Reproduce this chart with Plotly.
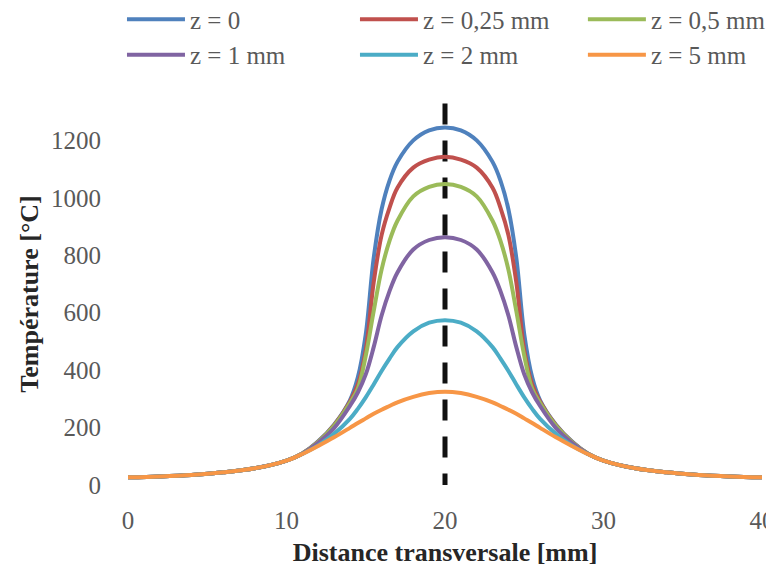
import plotly.graph_objects as go

x_mm = [0, 2, 4, 6, 8, 10, 11, 12, 13, 14, 14.5, 15, 15.5, 16, 16.5, 17, 18, 19, 20,
        21, 22, 23, 23.5, 24, 24.5, 25, 25.5, 26, 27, 28, 29, 30, 32, 34, 36, 38, 40]

t_z0 = [27, 30, 35, 44, 58, 85, 110, 152, 210, 295, 375, 525, 790, 960, 1060, 1125, 1200, 1235, 1245,
        1235, 1200, 1125, 1060, 960, 790, 525, 375, 295, 210, 152, 110, 85, 58, 44, 35, 30, 27]
t_z025 = [27, 30, 35, 44, 58, 85, 110, 151, 208, 290, 350, 470, 705, 870, 965, 1035, 1105, 1133, 1143,
          1133, 1105, 1035, 965, 870, 705, 470, 350, 290, 208, 151, 110, 85, 58, 44, 35, 30, 27]
t_z05 = [27, 30, 35, 44, 58, 85, 110, 150, 206, 285, 335, 450, 605, 750, 850, 920, 1005, 1038, 1048,
         1038, 1005, 920, 850, 750, 605, 450, 335, 285, 206, 150, 110, 85, 58, 44, 35, 30, 27]
t_z1 = [27, 30, 35, 44, 58, 85, 109, 147, 198, 275, 322, 385, 480, 590, 675, 740, 820, 853, 863,
        853, 820, 740, 675, 590, 480, 385, 322, 275, 198, 147, 109, 85, 58, 44, 35, 30, 27]
t_z2 = [27, 30, 35, 44, 58, 85, 108, 138, 178, 230, 265, 305, 350, 397, 440, 480, 535, 565, 574,
        565, 535, 480, 440, 397, 350, 305, 265, 230, 178, 138, 108, 85, 58, 44, 35, 30, 27]
t_z5 = [27, 30, 35, 44, 58, 85, 108, 136, 166, 199, 216, 232, 248, 262, 275, 288, 307, 320, 325,
        320, 307, 288, 275, 262, 248, 232, 216, 199, 166, 136, 108, 85, 58, 44, 35, 30, 27]

series_names = ["z = 0", "z = 0,25 mm", "z = 0,5 mm", "z = 1 mm", "z = 2 mm", "z = 5 mm"]
series_values = [t_z0, t_z025, t_z05, t_z1, t_z2, t_z5]
series_colors = ["#4F81BD", "#C0504D", "#9BBB59", "#8064A2", "#4BACC6", "#F79646"]
# legend column of each series (legend = column 1, legend2 = column 2, legend3 = column 3)
series_legend = ["legend", "legend2", "legend3", "legend", "legend2", "legend3"]

center_x = [20, 20]
center_y = [1328, 0]

x_ticks = [0, 10, 20, 30, 40]
y_ticks = [0, 200, 400, 600, 800, 1000, 1200]

fig = go.Figure()
fig.add_trace(go.Scatter(x=center_x, y=center_y, mode="lines", showlegend=False,
                         line=dict(color="#111111", width=5, dash="21px,16px"),
                         cliponaxis=False, hoverinfo="skip"))
for name, vals, col, lg in zip(series_names, series_values, series_colors, series_legend):
    fig.add_trace(go.Scatter(x=x_mm, y=vals, mode="lines", name=name, legend=lg,
                             line=dict(color=col, width=4, shape="spline", smoothing=1.0),
                             cliponaxis=False))

serif = "Liberation Serif, Times New Roman, serif"
legend_common = dict(orientation="v", xref="paper", yref="paper", y=1.279,
                     xanchor="left", yanchor="top", itemwidth=58,
                     font=dict(family=serif, size=25, color="#595959"),
                     traceorder="normal", bgcolor="rgba(0,0,0,0)")
fig.update_layout(
    width=766, height=566,
    paper_bgcolor="white", plot_bgcolor="white",
    margin=dict(l=120, r=12, t=95, b=89, autoexpand=False),
    font=dict(family=serif, size=25, color="#595959"),
    legend=dict(x=-0.0095, **legend_common),
    legend2=dict(x=0.3580, **legend_common),
    legend3=dict(x=0.7175, **legend_common),
    xaxis=dict(range=[0, 40], tickvals=x_ticks, showgrid=False, zeroline=False,
               showline=False, ticks="", ticklabelstandoff=18, ticklabeloverflow="allow",
               title=dict(text="<b>Distance transversale [mm]</b>",
                          font=dict(family=serif, size=26, color="#262626"), standoff=9)),
    yaxis=dict(range=[0, 1330], tickvals=y_ticks, showgrid=False, zeroline=False,
               showline=False, ticks="", ticklabelstandoff=26,
               title=dict(text="<b>Température [°C]</b>",
                          font=dict(family=serif, size=26, color="#262626"), standoff=4)),
)

fig.write_html("out.html")
